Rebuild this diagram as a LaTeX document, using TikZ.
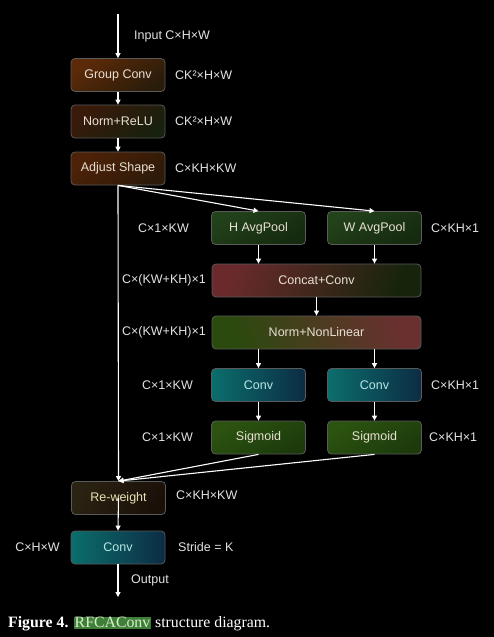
\documentclass[tikz,border=0pt]{standalone}
\usepackage{fontspec}
\setmainfont{Liberation Sans}
\newfontfamily\capfont{Liberation Serif}
\usetikzlibrary{arrows.meta}
\definecolor{boxline}{HTML}{5A5A5A}
\definecolor{labeltext}{HTML}{E2E2E2}
\definecolor{boxtext}{HTML}{E8E0D4}
\definecolor{convtext}{HTML}{B8E6E6}
\definecolor{rwtext}{HTML}{E6E2B4}
\definecolor{capgreen}{HTML}{3F7F3A}
\definecolor{capgtext}{HTML}{D8F0C8}
\tikzset{
  box/.style={draw=boxline, line width=0.8pt, rounded corners=4pt, minimum width=94pt,
    minimum height=33pt, inner sep=0pt, text=boxtext, font=\fontsize{12.5}{14}\selectfont},
  brownbox/.style={box, top color=HTML5C2A08, bottom color=HTML2A1C0A, shading angle=35},
  nrbox/.style={box, top color=HTML3A1A0A, middle color=HTML5A2A16, bottom color=HTML18200E, shading angle=40},
  asbox/.style={box, top color=HTML4E2208, middle color=HTML5E2C10, bottom color=HTML2E1A08, shading angle=40},
  greenbox/.style={box, top color=HTML22421A, bottom color=HTML152A0E, shading angle=30},
  catbox/.style={box, left color=HTML6A2A2C, right color=HTML16240C, shading angle=70},
  nnbox/.style={box, left color=HTML2A4A0E, right color=HTML6A3030, shading angle=110},
  convbox/.style={box, left color=HTML0B6E6C, right color=HTML0C2C44, text=convtext},
  sigbox/.style={box, top color=HTML2C5410, bottom color=HTML1C3A0C, shading angle=30},
  rwbox/.style={box, left color=HTML2A2212, right color=HTML1A1008, shading angle=60, text=rwtext},
  lbl/.style={inner sep=0pt, text=labeltext, font=\fontsize{12.5}{14}\selectfont},
  arr/.style={draw=white, line width=1.1pt, -{Triangle[length=5pt,width=5pt]}},
}
\definecolor{HTML5C2A08}{HTML}{5C2A08}
\definecolor{HTML2A1C0A}{HTML}{2A1C0A}
\definecolor{HTML3A1A0A}{HTML}{3A1A0A}
\definecolor{HTML5A2A16}{HTML}{5A2A16}
\definecolor{HTML18200E}{HTML}{18200E}
\definecolor{HTML4E2208}{HTML}{4E2208}
\definecolor{HTML5E2C10}{HTML}{5E2C10}
\definecolor{HTML2E1A08}{HTML}{2E1A08}
\definecolor{HTML22421A}{HTML}{22421A}
\definecolor{HTML152A0E}{HTML}{152A0E}
\definecolor{HTML6A2A2C}{HTML}{6A2A2C}
\definecolor{HTML16240C}{HTML}{16240C}
\definecolor{HTML2A4A0E}{HTML}{2A4A0E}
\definecolor{HTML6A3030}{HTML}{6A3030}
\definecolor{HTML0B6E6C}{HTML}{0B6E6C}
\definecolor{HTML0C2C44}{HTML}{0C2C44}
\definecolor{HTML2C5410}{HTML}{2C5410}
\definecolor{HTML1C3A0C}{HTML}{1C3A0C}
\definecolor{HTML2A2212}{HTML}{2A2212}
\definecolor{HTML1A1008}{HTML}{1A1008}
\begin{document}
\begin{tikzpicture}[x=1pt,y=-1pt]
\fill[black] (0,0) rectangle (494,637);
\useasboundingbox (0,0) rectangle (494,637);
% nodes
\node[brownbox] (gc) at (118,75) {Group Conv};
\node[nrbox] (nr) at (118,121.5) {Norm+ReLU};
\node[asbox] (as) at (118,168.5) {Adjust Shape};
\node[greenbox] (hp) at (258.5,228) {H AvgPool};
\node[greenbox] (wp) at (374.5,228) {W AvgPool};
\node[catbox, minimum width=209pt] (cc) at (316.5,280.5) {Concat+Conv};
\node[nnbox, minimum width=209pt] (nn) at (316.5,332.5) {Norm+NonLinear};
\node[convbox] (hc) at (258.5,385) {Conv};
\node[convbox] (wc) at (374.5,385) {Conv};
\node[sigbox] (hs) at (258.5,437.5) {Sigmoid};
\node[sigbox] (ws) at (374.5,437.5) {Sigmoid};
\node[rwbox] (rw) at (118.5,498) {Re-weight};
\node[convbox] (oc) at (118,547.5) {Conv};
\coordinate (in) at (118,14);
\coordinate (out) at (118,597);
% connectors
\draw[arr] (in) -- (gc.north);
\draw[arr] (gc) -- (nr);
\draw[arr] (nr) -- (as);
\draw[arr] (as.south) -- (rw.north);
\draw[arr] (as.south) -- (hp.north);
\draw[arr] (as.south) -- (wp.north);
\draw[arr] (hp) -- (hp|-cc.north);
\draw[arr] (wp) -- (wp|-cc.north);
\draw[arr] (cc) -- (nn);
\draw[arr] (hc|-nn.south) -- (hc);
\draw[arr] (wc|-nn.south) -- (wc);
\draw[arr] (hc) -- (hs);
\draw[arr] (wc) -- (ws);
\draw[arr] (hs.south) -- (rw.north);
\draw[arr] (ws.south) -- (rw.north);
\draw[arr] (rw.center) -- (oc.north);
\draw[arr] (oc) -- (out);
% labels
\node[lbl, anchor=west] (l1) at (134,36) {Input C×H×W};
\node[lbl, anchor=west] (l2) at (175,75) {CK²×H×W};
\node[lbl, anchor=west] (l3) at (175,121.5) {CK²×H×W};
\node[lbl, anchor=west] (l4) at (175,168.5) {C×KH×KW};
\node[lbl] (l5) at (163.5,228) {C×1×KW};
\node[lbl, anchor=west] (l6) at (431,228) {C×KH×1};
\node[lbl, anchor=east] (l7) at (206,280.5) {C×(KW+KH)×1};
\node[lbl, anchor=east] (l8) at (206,332.5) {C×(KW+KH)×1};
\node[lbl] (l9) at (167.5,385) {C×1×KW};
\node[lbl, anchor=west] (l10) at (431,385) {C×KH×1};
\node[lbl] (l11) at (167.5,437.5) {C×1×KW};
\node[lbl, anchor=west] (l12) at (429,437.5) {C×KH×1};
\node[lbl, anchor=west] (l13) at (176,495) {C×KH×KW};
\node[lbl] (l14) at (37.5,547.5) {C×H×W};
\node[lbl, anchor=west] (l15) at (178,547.5) {Stride = K};
\node[lbl, anchor=west] (l16) at (131,580) {Output};
% caption
\node[inner sep=0pt, anchor=west, text=white, font=\capfont\fontsize{15.8}{18}\selectfont] (cap) at (8,624)
  {\textbf{Figure 4.} {\setlength{\fboxsep}{1pt}\colorbox{capgreen}{\textcolor{capgtext}{RFCAConv}}} structure diagram.};
\end{tikzpicture}
\end{document}
